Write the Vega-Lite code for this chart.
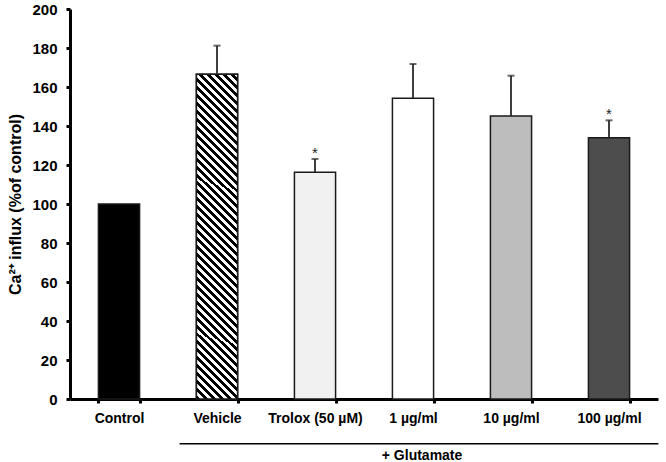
{
  "$schema": "https://vega.github.io/schema/vega-lite/v6.json",
  "width": 588,
  "height": 390,
  "autosize": {"type": "none"},
  "padding": {"left": 70, "top": 9, "right": 8, "bottom": 63},
  "background": "white",
  "config": {
    "view": {"stroke": null},
    "font": "Liberation Sans",
    "axis": {"grid": false, "domainColor": "black", "domainWidth": 3, "tickColor": "black", "tickWidth": 3, "labelColor": "black", "labelFont": "Liberation Sans", "labelFontWeight": "bold", "titleFont": "Liberation Sans", "titleFontWeight": "bold", "titleColor": "black", "labelOverlap": false}
  },
  "datasets": {
    "bars": [
      {"cat": "Control", "value": 100},
      {"cat": "Vehicle", "value": 166.5, "upper": 181.2},
      {"cat": "Trolox (50 µM)", "value": 116.3, "upper": 123.1, "sig": "*"},
      {"cat": "1 µg/ml", "value": 154.2, "upper": 171.8},
      {"cat": "10 µg/ml", "value": 145.1, "upper": 165.8},
      {"cat": "100 µg/ml", "value": 134, "upper": 142.9, "sig": "*"}
    ],
    "group": [
      {"label": "+ Glutamate", "first": "Vehicle", "last": "100 µg/ml"}
    ]
  },
  "layer": [
    {
      "data": {"name": "bars"},
      "mark": {"type": "bar", "stroke": "#1a1a1a", "strokeWidth": 1.5},
      "encoding": {
        "x": {"field": "cat", "type": "nominal",
          "scale": {"domain": ["Control", "Vehicle", "Trolox (50 µM)", "1 µg/ml", "10 µg/ml", "100 µg/ml"], "paddingInner": 0.58, "paddingOuter": 0.29},
          "axis": {"title": null, "labelAngle": 0, "tickBand": "extent", "tickSize": 4, "labelFontSize": 14, "labelPadding": 8}},
        "y": {"field": "value", "type": "quantitative",
          "scale": {"domain": [0, 200], "nice": false},
          "axis": {"values": [0, 20, 40, 60, 80, 100, 120, 140, 160, 180, 200], "tickCount": 11, "tickSize": 4, "labelFontSize": 15, "labelPadding": 9, "title": "Ca²⁺ influx (%of control)", "titleFontSize": 16, "titlePadding": 8}},
        "fill": {"field": "cat", "type": "nominal", "legend": null,
          "scale": {"domain": ["Control", "Vehicle", "Trolox (50 µM)", "1 µg/ml", "10 µg/ml", "100 µg/ml"], "range": ["#000000", "#777777", "#f1f1f1", "#ffffff", "#bdbdbd", "#4d4d4d"]}}
      }
    },
    {
      "data": {"name": "bars"},
      "transform": [{"filter": "datum.cat === 'Vehicle'"}],
      "mark": {"type": "bar", "stroke": "#1a1a1a", "strokeWidth": 1.5,
        "fill": {"gradient": "linear", "x1": 0, "y1": 1, "x2": 0.13985, "y2": -0.1085, "stops": [
{"offset":0,"color":"black"},{"offset":0.01087,"color":"black"},{"offset":0.01087,"color":"white"},{"offset":0.02174,"color":"white"},
{"offset":0.02174,"color":"black"},{"offset":0.03261,"color":"black"},{"offset":0.03261,"color":"white"},{"offset":0.04348,"color":"white"},
{"offset":0.04348,"color":"black"},{"offset":0.05435,"color":"black"},{"offset":0.05435,"color":"white"},{"offset":0.06522,"color":"white"},
{"offset":0.06522,"color":"black"},{"offset":0.07609,"color":"black"},{"offset":0.07609,"color":"white"},{"offset":0.08696,"color":"white"},
{"offset":0.08696,"color":"black"},{"offset":0.09783,"color":"black"},{"offset":0.09783,"color":"white"},{"offset":0.1087,"color":"white"},
{"offset":0.1087,"color":"black"},{"offset":0.11957,"color":"black"},{"offset":0.11957,"color":"white"},{"offset":0.13043,"color":"white"},
{"offset":0.13043,"color":"black"},{"offset":0.1413,"color":"black"},{"offset":0.1413,"color":"white"},{"offset":0.15217,"color":"white"},
{"offset":0.15217,"color":"black"},{"offset":0.16304,"color":"black"},{"offset":0.16304,"color":"white"},{"offset":0.17391,"color":"white"},
{"offset":0.17391,"color":"black"},{"offset":0.18478,"color":"black"},{"offset":0.18478,"color":"white"},{"offset":0.19565,"color":"white"},
{"offset":0.19565,"color":"black"},{"offset":0.20652,"color":"black"},{"offset":0.20652,"color":"white"},{"offset":0.21739,"color":"white"},
{"offset":0.21739,"color":"black"},{"offset":0.22826,"color":"black"},{"offset":0.22826,"color":"white"},{"offset":0.23913,"color":"white"},
{"offset":0.23913,"color":"black"},{"offset":0.25,"color":"black"},{"offset":0.25,"color":"white"},{"offset":0.26087,"color":"white"},
{"offset":0.26087,"color":"black"},{"offset":0.27174,"color":"black"},{"offset":0.27174,"color":"white"},{"offset":0.28261,"color":"white"},
{"offset":0.28261,"color":"black"},{"offset":0.29348,"color":"black"},{"offset":0.29348,"color":"white"},{"offset":0.30435,"color":"white"},
{"offset":0.30435,"color":"black"},{"offset":0.31522,"color":"black"},{"offset":0.31522,"color":"white"},{"offset":0.32609,"color":"white"},
{"offset":0.32609,"color":"black"},{"offset":0.33696,"color":"black"},{"offset":0.33696,"color":"white"},{"offset":0.34783,"color":"white"},
{"offset":0.34783,"color":"black"},{"offset":0.3587,"color":"black"},{"offset":0.3587,"color":"white"},{"offset":0.36957,"color":"white"},
{"offset":0.36957,"color":"black"},{"offset":0.38043,"color":"black"},{"offset":0.38043,"color":"white"},{"offset":0.3913,"color":"white"},
{"offset":0.3913,"color":"black"},{"offset":0.40217,"color":"black"},{"offset":0.40217,"color":"white"},{"offset":0.41304,"color":"white"},
{"offset":0.41304,"color":"black"},{"offset":0.42391,"color":"black"},{"offset":0.42391,"color":"white"},{"offset":0.43478,"color":"white"},
{"offset":0.43478,"color":"black"},{"offset":0.44565,"color":"black"},{"offset":0.44565,"color":"white"},{"offset":0.45652,"color":"white"},
{"offset":0.45652,"color":"black"},{"offset":0.46739,"color":"black"},{"offset":0.46739,"color":"white"},{"offset":0.47826,"color":"white"},
{"offset":0.47826,"color":"black"},{"offset":0.48913,"color":"black"},{"offset":0.48913,"color":"white"},{"offset":0.5,"color":"white"},
{"offset":0.5,"color":"black"},{"offset":0.51087,"color":"black"},{"offset":0.51087,"color":"white"},{"offset":0.52174,"color":"white"},
{"offset":0.52174,"color":"black"},{"offset":0.53261,"color":"black"},{"offset":0.53261,"color":"white"},{"offset":0.54348,"color":"white"},
{"offset":0.54348,"color":"black"},{"offset":0.55435,"color":"black"},{"offset":0.55435,"color":"white"},{"offset":0.56522,"color":"white"},
{"offset":0.56522,"color":"black"},{"offset":0.57609,"color":"black"},{"offset":0.57609,"color":"white"},{"offset":0.58696,"color":"white"},
{"offset":0.58696,"color":"black"},{"offset":0.59783,"color":"black"},{"offset":0.59783,"color":"white"},{"offset":0.6087,"color":"white"},
{"offset":0.6087,"color":"black"},{"offset":0.61957,"color":"black"},{"offset":0.61957,"color":"white"},{"offset":0.63043,"color":"white"},
{"offset":0.63043,"color":"black"},{"offset":0.6413,"color":"black"},{"offset":0.6413,"color":"white"},{"offset":0.65217,"color":"white"},
{"offset":0.65217,"color":"black"},{"offset":0.66304,"color":"black"},{"offset":0.66304,"color":"white"},{"offset":0.67391,"color":"white"},
{"offset":0.67391,"color":"black"},{"offset":0.68478,"color":"black"},{"offset":0.68478,"color":"white"},{"offset":0.69565,"color":"white"},
{"offset":0.69565,"color":"black"},{"offset":0.70652,"color":"black"},{"offset":0.70652,"color":"white"},{"offset":0.71739,"color":"white"},
{"offset":0.71739,"color":"black"},{"offset":0.72826,"color":"black"},{"offset":0.72826,"color":"white"},{"offset":0.73913,"color":"white"},
{"offset":0.73913,"color":"black"},{"offset":0.75,"color":"black"},{"offset":0.75,"color":"white"},{"offset":0.76087,"color":"white"},
{"offset":0.76087,"color":"black"},{"offset":0.77174,"color":"black"},{"offset":0.77174,"color":"white"},{"offset":0.78261,"color":"white"},
{"offset":0.78261,"color":"black"},{"offset":0.79348,"color":"black"},{"offset":0.79348,"color":"white"},{"offset":0.80435,"color":"white"},
{"offset":0.80435,"color":"black"},{"offset":0.81522,"color":"black"},{"offset":0.81522,"color":"white"},{"offset":0.82609,"color":"white"},
{"offset":0.82609,"color":"black"},{"offset":0.83696,"color":"black"},{"offset":0.83696,"color":"white"},{"offset":0.84783,"color":"white"},
{"offset":0.84783,"color":"black"},{"offset":0.8587,"color":"black"},{"offset":0.8587,"color":"white"},{"offset":0.86957,"color":"white"},
{"offset":0.86957,"color":"black"},{"offset":0.88043,"color":"black"},{"offset":0.88043,"color":"white"},{"offset":0.8913,"color":"white"},
{"offset":0.8913,"color":"black"},{"offset":0.90217,"color":"black"},{"offset":0.90217,"color":"white"},{"offset":0.91304,"color":"white"},
{"offset":0.91304,"color":"black"},{"offset":0.92391,"color":"black"},{"offset":0.92391,"color":"white"},{"offset":0.93478,"color":"white"},
{"offset":0.93478,"color":"black"},{"offset":0.94565,"color":"black"},{"offset":0.94565,"color":"white"},{"offset":0.95652,"color":"white"},
{"offset":0.95652,"color":"black"},{"offset":0.96739,"color":"black"},{"offset":0.96739,"color":"white"},{"offset":0.97826,"color":"white"},
{"offset":0.97826,"color":"black"},{"offset":0.98913,"color":"black"},{"offset":0.98913,"color":"white"},{"offset":1,"color":"white"}
        ]}},
      "encoding": {
        "x": {"field": "cat", "type": "nominal"},
        "y": {"field": "value", "type": "quantitative"}
      }
    },
    {
      "data": {"name": "bars"},
      "transform": [{"filter": "isValid(datum.upper)"}],
      "mark": {"type": "rule", "color": "#2a2a2a", "strokeWidth": 1.8},
      "encoding": {
        "x": {"field": "cat", "type": "nominal"},
        "y": {"field": "value", "type": "quantitative"},
        "y2": {"field": "upper"}
      }
    },
    {
      "data": {"name": "bars"},
      "transform": [{"filter": "isValid(datum.upper)"}],
      "mark": {"type": "tick", "color": "#2a2a2a", "size": 7, "thickness": 2},
      "encoding": {
        "x": {"field": "cat", "type": "nominal"},
        "y": {"field": "upper", "type": "quantitative"}
      }
    },
    {
      "data": {"name": "bars"},
      "transform": [{"filter": "isValid(datum.sig)"}],
      "mark": {"type": "text", "baseline": "alphabetic", "dy": -1, "fontSize": 15, "color": "#222", "font": "Liberation Sans"},
      "encoding": {
        "x": {"field": "cat", "type": "nominal"},
        "y": {"field": "upper", "type": "quantitative"},
        "text": {"field": "sig"}
      }
    },
    {
      "data": {"name": "group"},
      "mark": {"type": "rule", "color": "black", "strokeWidth": 1.5, "clip": false},
      "encoding": {
        "x": {"field": "first", "type": "nominal", "bandPosition": -0.41},
        "x2": {"field": "last", "bandPosition": 1.7},
        "y": {"datum": -23}
      }
    },
    {
      "data": {"name": "group"},
      "mark": {"type": "text", "fontSize": 14, "fontWeight": "bold", "baseline": "middle", "align": "center", "color": "black"},
      "encoding": {
        "x": {"datum": "1 µg/ml", "type": "nominal", "bandPosition": 0.72},
        "y": {"datum": -29.3},
        "text": {"field": "label"}
      }
    }
  ]
}
